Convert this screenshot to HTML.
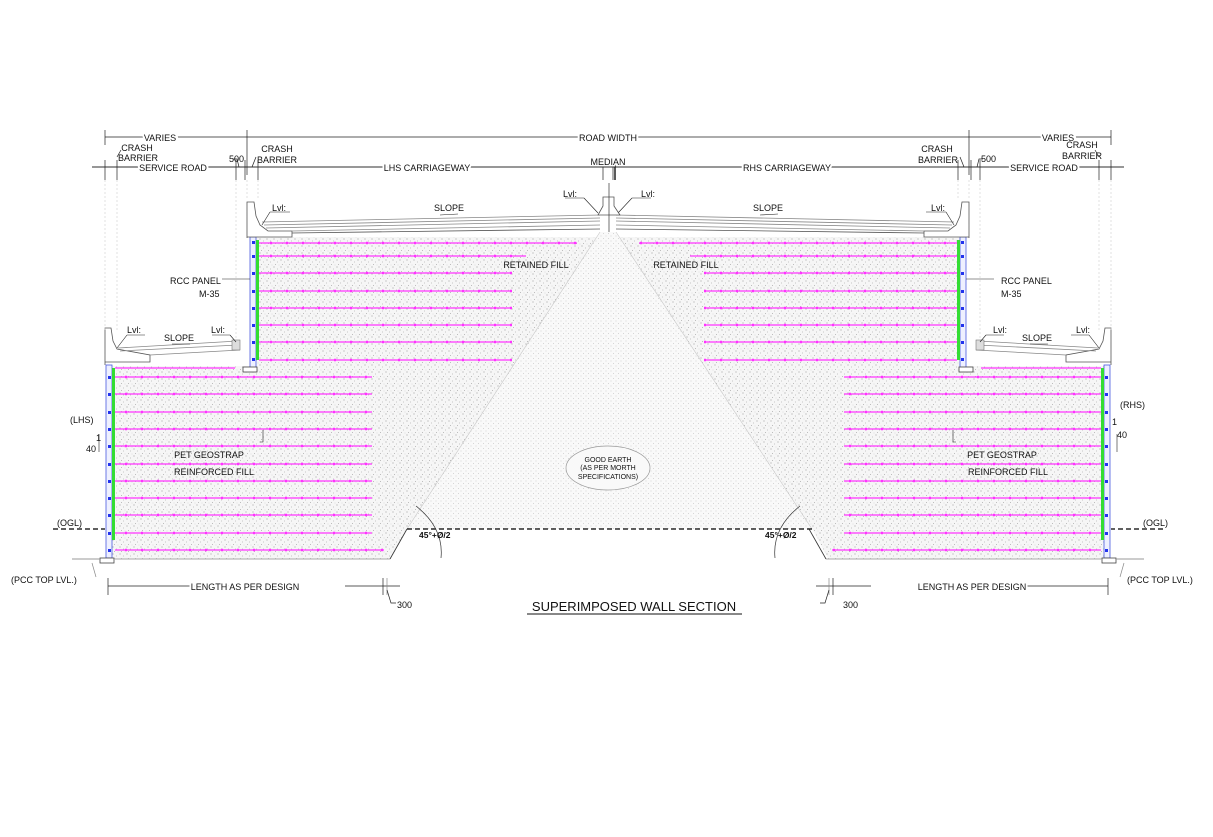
<!DOCTYPE html>
<html><head><meta charset="utf-8"><style>
html,body{margin:0;padding:0;background:#fff;}
svg{display:block;}
text{font-family:"Liberation Sans",sans-serif;font-size:9px;fill:#111;}
</style></head><body>
<svg width="1213" height="837" viewBox="0 0 1213 837" xmlns="http://www.w3.org/2000/svg">
<defs>
<pattern id="st" width="7" height="7" patternUnits="userSpaceOnUse">
<rect width="7" height="7" fill="#f6f6f6"/>
<circle cx="1" cy="1" r="0.6" fill="#aaa"/><circle cx="4.5" cy="3" r="0.5" fill="#b5b5b5"/><circle cx="2.5" cy="5.5" r="0.5" fill="#aaa"/><circle cx="6" cy="6" r="0.4" fill="#c5c5c5"/>
</pattern>
<pattern id="ge" width="5" height="5" patternUnits="userSpaceOnUse">
<rect width="5" height="5" fill="#f9f9f9"/><circle cx="1" cy="1" r="0.45" fill="#c5c5c5"/><circle cx="3.5" cy="3.5" r="0.45" fill="#c5c5c5"/>
</pattern>
<g id="side">
 <rect x="250" y="237" width="6" height="131" fill="#eef0ff" stroke="#4a5adf" stroke-width="0.8"/>
 <rect x="256" y="240" width="3" height="120" fill="#33dd33"/>
 <rect x="243" y="367" width="14" height="5" fill="#fff" stroke="#444" stroke-width="0.8"/>
 <path d="M247,238 V202 H254 L256,216 L260,225 L268,231 L292,231 V237 H247 Z" fill="#fff" stroke="#555" stroke-width="0.8"/>
 <g stroke="#888" stroke-width="0.8" fill="none">
  <line x1="262" y1="222" x2="600" y2="215"/><line x1="264" y1="225" x2="600" y2="218"/>
  <line x1="266" y1="228" x2="600" y2="221"/><line x1="292" y1="231" x2="600" y2="225"/>
 </g>
 <line x1="292" y1="233" x2="600" y2="229" stroke="#555" stroke-width="0.8"/>
 <g stroke="#ff33ff" stroke-width="1.2">
  <line x1="259" y1="243" x2="577" y2="243"/><line x1="259" y1="256" x2="526" y2="256"/>
  <line x1="259" y1="273" x2="512" y2="273"/><line x1="259" y1="291" x2="512" y2="291"/>
  <line x1="259" y1="308" x2="512" y2="308"/><line x1="259" y1="325" x2="512" y2="325"/>
  <line x1="259" y1="342" x2="512" y2="342"/><line x1="259" y1="360" x2="512" y2="360"/>
 </g>
 <g stroke="#ff33ff" stroke-width="2.5" stroke-dasharray="2 14">
  <line x1="270" y1="243" x2="577" y2="243"/><line x1="270" y1="256" x2="526" y2="256"/>
  <line x1="270" y1="273" x2="512" y2="273"/><line x1="270" y1="291" x2="512" y2="291"/>
  <line x1="270" y1="308" x2="512" y2="308"/><line x1="270" y1="325" x2="512" y2="325"/>
  <line x1="270" y1="342" x2="512" y2="342"/><line x1="270" y1="360" x2="512" y2="360"/>
 </g>
 <g fill="#2233ee"><rect x="252" y="241" width="3" height="3"/><rect x="252" y="255" width="3" height="3"/><rect x="252" y="272" width="3" height="3"/><rect x="252" y="290" width="3" height="3"/><rect x="252" y="307" width="3" height="3"/><rect x="252" y="324" width="3" height="3"/><rect x="252" y="341" width="3" height="3"/><rect x="252" y="358" width="3" height="3"/></g>
 <rect x="106" y="365" width="6" height="193" fill="#eef0ff" stroke="#4a5adf" stroke-width="0.8"/>
 <rect x="112" y="368" width="3" height="172" fill="#33dd33"/>
 <rect x="100" y="558" width="14" height="5" fill="#fff" stroke="#444" stroke-width="0.8"/>
 <path d="M105,365 V328 H111 L113,341 L117,349 L150,355 V362 H105 Z" fill="#fff" stroke="#555" stroke-width="0.8"/>
 <g stroke="#888" stroke-width="0.8"><line x1="118" y1="348" x2="238" y2="341"/><line x1="120" y1="351" x2="238" y2="345"/><line x1="150" y1="355" x2="240" y2="350"/></g>
 <rect x="232" y="340" width="8" height="10" fill="#ddd" stroke="#777" stroke-width="0.6"/>
 <g stroke="#ff33ff" stroke-width="1.2">
  <line x1="115" y1="368" x2="235" y2="368"/><line x1="115" y1="377" x2="372" y2="377"/>
  <line x1="115" y1="394" x2="372" y2="394"/><line x1="115" y1="412" x2="372" y2="412"/>
  <line x1="115" y1="429" x2="372" y2="429"/><line x1="115" y1="446" x2="372" y2="446"/>
  <line x1="115" y1="464" x2="372" y2="464"/><line x1="115" y1="481" x2="372" y2="481"/>
  <line x1="115" y1="498" x2="372" y2="498"/><line x1="115" y1="515" x2="372" y2="515"/>
  <line x1="115" y1="533" x2="372" y2="533"/><line x1="115" y1="550" x2="384" y2="550"/>
 </g>
 <g stroke="#ff33ff" stroke-width="2.5" stroke-dasharray="2 14">
  <line x1="125" y1="377" x2="372" y2="377"/><line x1="125" y1="394" x2="372" y2="394"/><line x1="125" y1="412" x2="372" y2="412"/>
  <line x1="125" y1="429" x2="372" y2="429"/><line x1="125" y1="446" x2="372" y2="446"/><line x1="125" y1="464" x2="372" y2="464"/>
  <line x1="125" y1="481" x2="372" y2="481"/><line x1="125" y1="498" x2="372" y2="498"/><line x1="125" y1="515" x2="372" y2="515"/>
  <line x1="125" y1="533" x2="372" y2="533"/><line x1="125" y1="550" x2="384" y2="550"/>
 </g>
 <g fill="#2233ee"><rect x="108" y="376" width="3" height="3"/><rect x="108" y="393" width="3" height="3"/><rect x="108" y="411" width="3" height="3"/><rect x="108" y="428" width="3" height="3"/><rect x="108" y="445" width="3" height="3"/><rect x="108" y="463" width="3" height="3"/><rect x="108" y="480" width="3" height="3"/><rect x="108" y="497" width="3" height="3"/><rect x="108" y="514" width="3" height="3"/><rect x="108" y="532" width="3" height="3"/><rect x="108" y="549" width="3" height="3"/></g>
 <line x1="72" y1="559" x2="100" y2="559" stroke="#999"/>
 <line x1="114" y1="559" x2="390" y2="559" stroke="#aaa"/>
 <line x1="53" y1="529" x2="105" y2="529" stroke="#000" stroke-width="1.3" stroke-dasharray="5 3"/>
 <path d="M407,529 L390,559" stroke="#333" fill="none" stroke-width="0.8"/>
 <path d="M416,506 Q444,528 441,558" stroke="#333" fill="none" stroke-width="0.7"/>
 <line x1="92" y1="563" x2="96" y2="577" stroke="#888" stroke-width="0.7"/>
 <g stroke="#222" stroke-width="0.7">
  <line x1="108" y1="578" x2="108" y2="595"/><line x1="108" y1="586" x2="245" y2="586"/><line x1="345" y1="586" x2="400" y2="586"/>
  <line x1="383" y1="578" x2="383" y2="595"/><line x1="387" y1="578" x2="387" y2="595" stroke="#888"/>
  <path d="M387,590 L391,603 H396" fill="none"/>
  <line x1="105" y1="130" x2="105" y2="145"/><line x1="247" y1="130" x2="247" y2="175"/>
  <line x1="92" y1="167" x2="1124" y2="167"/>
  <line x1="105" y1="160" x2="105" y2="180"/><line x1="117" y1="160" x2="117" y2="180"/>
  <line x1="236" y1="160" x2="236" y2="180"/><line x1="245" y1="160" x2="245" y2="180"/>
  <line x1="258" y1="160" x2="258" y2="180"/>
  <line x1="117" y1="157" x2="121" y2="150"/><line x1="252" y1="167" x2="256" y2="157"/>
  <path d="M239,167 L237,159 H233" fill="none"/>
  <line x1="603" y1="160" x2="603" y2="180"/>
 </g>
 <g stroke="#ccc" stroke-width="0.6" stroke-dasharray="2 2"><line x1="105" y1="180" x2="105" y2="330"/><line x1="117" y1="180" x2="117" y2="330"/><line x1="236" y1="180" x2="236" y2="340"/><line x1="247" y1="180" x2="247" y2="200"/><line x1="258" y1="180" x2="258" y2="200"/></g>
 <g stroke="#222" stroke-width="0.6" fill="none">
  <path d="M270,212 H290 M270,212 L262,225"/><path d="M127,335 H145 M127,335 L117,348"/><path d="M212,335 H230 M230,335 L236,342"/>
  <path d="M584,198 H565 M584,198 L598,213"/>
  <path d="M222,279 H250"/><path d="M263,430 V442 H260"/>
  <path d="M99,434 V452"/>
 </g>
</g>
</defs>

<path d="M256,237 L960,237 L960,366 L1110,366 L1110,559 L106,559 L106,366 L256,366 Z" fill="url(#st)"/>
<path d="M600,232 L616,232 L812,529 L407,529 Z" fill="url(#ge)"/>
<path d="M407,529 L812,529 L829,560 L390,560 Z" fill="#fff"/>
<path d="M407,529 L600,232 M812,529 L616,232" stroke="#c8c8c8" stroke-width="0.6" fill="none"/>
<line x1="407" y1="529" x2="812" y2="529" stroke="#000" stroke-width="1.3" stroke-dasharray="5 3"/>
<ellipse cx="608" cy="468" rx="42" ry="22" fill="#f9f9f9" stroke="#999" stroke-width="0.7"/>

<use href="#side"/>
<use href="#side" transform="translate(1216,0) scale(-1,1)"/>

<path d="M598,215 L603,206 L603,197 H614 L614,206 L620,215 Z" fill="#fff" stroke="#555" stroke-width="0.8"/>
<line x1="609" y1="183" x2="609" y2="232" stroke="#333" stroke-width="0.7"/>
<line x1="247" y1="137" x2="969" y2="137" stroke="#222" stroke-width="0.7"/>
<line x1="105" y1="137" x2="247" y2="137" stroke="#222" stroke-width="0.7"/>
<line x1="969" y1="137" x2="1111" y2="137" stroke="#222" stroke-width="0.7"/>
<line x1="615" y1="160" x2="615" y2="180" stroke="#222" stroke-width="1.5"/>

<g text-anchor="middle">
<text x="160" y="141" stroke="#fff" stroke-width="4" style="paint-order:stroke">VARIES</text>
<text x="608" y="141" stroke="#fff" stroke-width="4" style="paint-order:stroke">ROAD WIDTH</text>
<text x="1058" y="141" stroke="#fff" stroke-width="4" style="paint-order:stroke">VARIES</text>
<text x="173" y="171" stroke="#fff" stroke-width="4" style="paint-order:stroke">SERVICE ROAD</text>
<text x="427" y="171" stroke="#fff" stroke-width="4" style="paint-order:stroke">LHS CARRIAGEWAY</text>
<text x="608" y="165" stroke="#fff" stroke-width="3" style="paint-order:stroke">MEDIAN</text>
<text x="787" y="171" stroke="#fff" stroke-width="4" style="paint-order:stroke">RHS CARRIAGEWAY</text>
<text x="1044" y="171" stroke="#fff" stroke-width="4" style="paint-order:stroke">SERVICE ROAD</text>
<text x="137" y="151">CRASH</text><text x="138" y="161">BARRIER</text>
<text x="277" y="152">CRASH</text><text x="277" y="163">BARRIER</text>
<text x="937" y="152">CRASH</text><text x="938" y="163">BARRIER</text>
<text x="1082" y="148">CRASH</text><text x="1082" y="159">BARRIER</text>
<text x="536" y="268">RETAINED FILL</text><text x="686" y="268">RETAINED FILL</text>
<text x="449" y="211">SLOPE</text><text x="768" y="211">SLOPE</text>
<text x="179" y="341">SLOPE</text><text x="1037" y="341">SLOPE</text>
<text x="608" y="462" style="font-size:7px">GOOD EARTH</text>
<text x="608" y="470" style="font-size:7px">(AS PER MORTH</text>
<text x="608" y="479" style="font-size:7px">SPECIFICATIONS)</text>
<text x="245" y="590" stroke="#fff" stroke-width="4" style="paint-order:stroke">LENGTH AS PER DESIGN</text>
<text x="972" y="590" stroke="#fff" stroke-width="4" style="paint-order:stroke">LENGTH AS PER DESIGN</text>
<text x="209" y="458">PET GEOSTRAP</text><text x="214" y="475">REINFORCED FILL</text>
<text x="1002" y="458">PET GEOSTRAP</text><text x="1008" y="475">REINFORCED FILL</text>
</g>
<text x="229" y="162">500</text><text x="981" y="162">500</text>
<text x="272" y="211">Lvl:</text><text x="931" y="211">Lvl:</text>
<text x="563" y="197">Lvl:</text><text x="641" y="197">Lvl:</text>
<text x="127" y="333">Lvl:</text><text x="211" y="333">Lvl:</text>
<text x="993" y="333">Lvl:</text><text x="1076" y="333">Lvl:</text>
<text x="170" y="284">RCC PANEL</text><text x="199" y="297">M-35</text>
<text x="1001" y="284">RCC PANEL</text><text x="1001" y="297">M-35</text>
<text x="70" y="423">(LHS)</text><text x="96" y="441">1</text><text x="86" y="452">40</text>
<text x="1120" y="408">(RHS)</text><text x="1112" y="425">1</text><text x="1117" y="438">40</text>
<text x="57" y="526">(OGL)</text><text x="1143" y="526">(OGL)</text>
<text x="419" y="538" style="font-weight:bold;font-size:8.5px">45°+Ø/2</text>
<text x="765" y="538" style="font-weight:bold;font-size:8.5px">45°+Ø/2</text>
<text x="11" y="583">(PCC TOP LVL.)</text><text x="1127" y="583">(PCC TOP LVL.)</text>
<text x="397" y="608">300</text><text x="843" y="608">300</text>
<g stroke="#222" stroke-width="0.6"><line x1="440" y1="215" x2="458" y2="214"/><line x1="760" y1="215" x2="778" y2="214"/><line x1="172" y1="344" x2="190" y2="344"/><line x1="1030" y1="344" x2="1048" y2="344"/></g>
<text x="634" y="611" text-anchor="middle" style="font-size:13px">SUPERIMPOSED WALL SECTION</text>
<line x1="527" y1="614" x2="742" y2="614" stroke="#111" stroke-width="0.9"/>
</svg>
</body></html>
